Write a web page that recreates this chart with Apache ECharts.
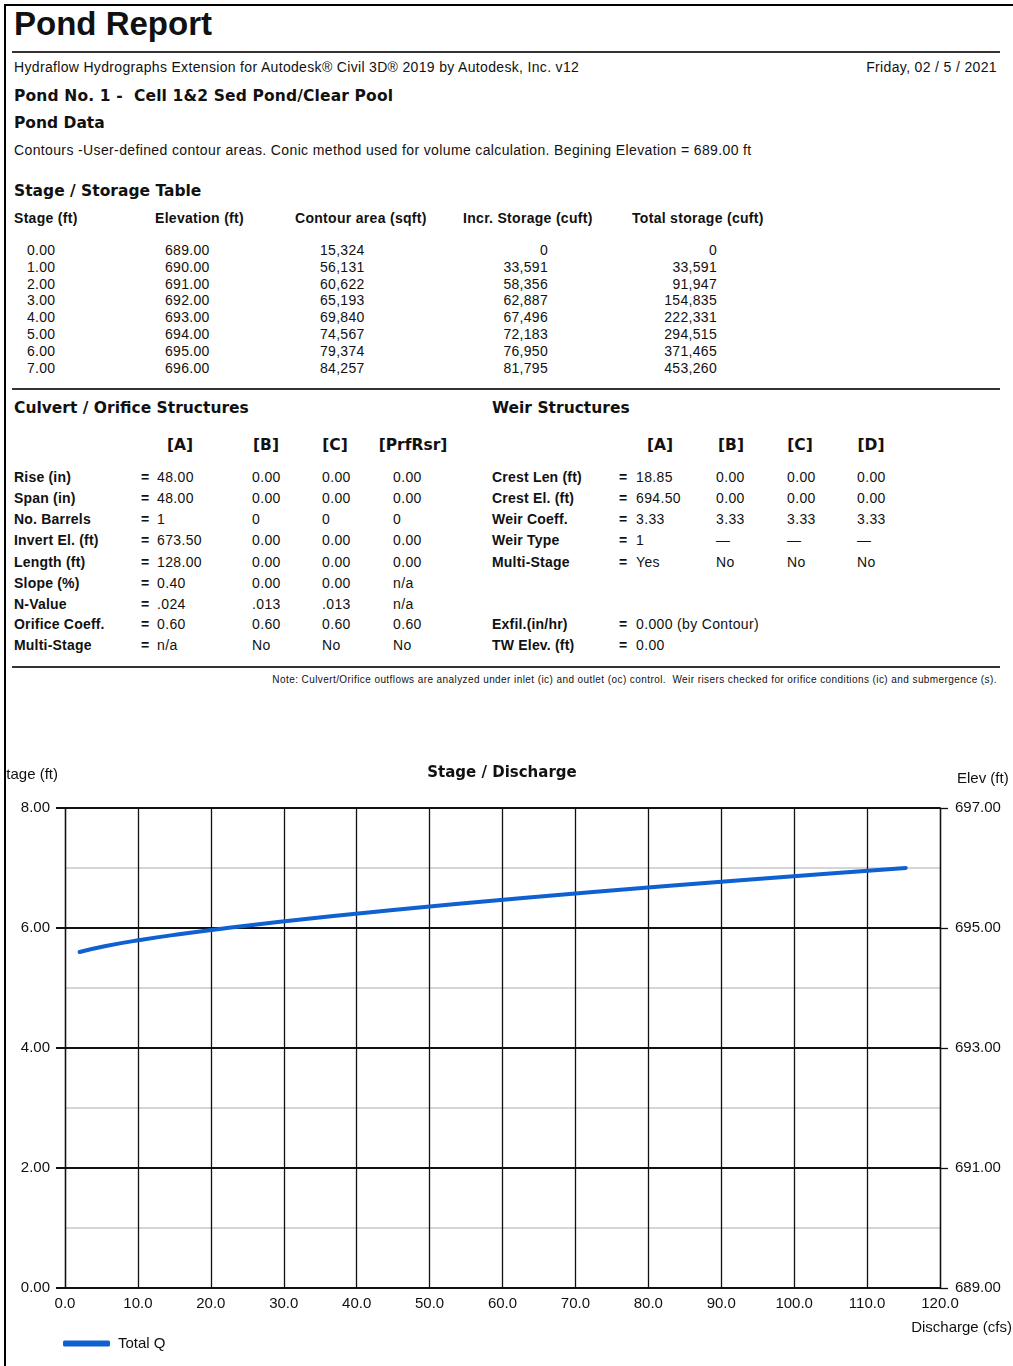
<!DOCTYPE html>
<html>
<head>
<meta charset="utf-8">
<script src="https://cdn.jsdelivr.net/npm/echarts@6/dist/echarts.min.js"></script>
<style>
  html, body { margin:0; padding:0; background:#fff; }
  body { width:1013px; height:1366px; position:relative; overflow:hidden; font-family:"Liberation Sans", Arial, sans-serif; color:#111; }
  .t { position:absolute; white-space:pre; line-height:1; }
  .hr { position:absolute; left:12px; width:988px; height:2px; background:#333; }
  #border { position:absolute; left:4px; top:4px; right:-10px; bottom:-10px; border-left:2px solid #000; border-top:2px solid #000; z-index:5; pointer-events:none; }
  #chart { position:absolute; left:6px; top:740px; width:1007px; height:626px; }
</style>
</head>
<body>
<div id="border"></div>
<div class="hr" style="top:51px"></div>
<div class="hr" style="top:388px"></div>
<div class="hr" style="top:666px"></div>
<div id="chart"></div>
<script>
// ---------- Report data ----------
var reportTitle = 'Pond Report';
var softwareLine = 'Hydraflow Hydrographs Extension for Autodesk® Civil 3D® 2019 by Autodesk, Inc. v12';
var reportDate = 'Friday, 02 / 5 / 2021';
var pondName = 'Pond No. 1 -  Cell 1&2 Sed Pond/Clear Pool';
var contourNote = 'Contours -User-defined contour areas. Conic method used for volume calculation. Begining Elevation = 689.00 ft';

var tableHeaders = ['Stage (ft)', 'Elevation (ft)', 'Contour area (sqft)', 'Incr. Storage (cuft)', 'Total storage (cuft)'];
var stageCol = ['0.00','1.00','2.00','3.00','4.00','5.00','6.00','7.00'];
var elevCol = ['689.00','690.00','691.00','692.00','693.00','694.00','695.00','696.00'];
var contourAreaCol = ['15,324','56,131','60,622','65,193','69,840','74,567','79,374','84,257'];
var incrStorageCol = ['0','33,591','58,356','62,887','67,496','72,183','76,950','81,795'];
var totalStorageCol = ['0','33,591','91,947','154,835','222,331','294,515','371,465','453,260'];

var culvertHeaders = ['[A]','[B]','[C]','[PrfRsr]'];
var culvertLabels = ['Rise (in)','Span (in)','No. Barrels','Invert El. (ft)','Length (ft)','Slope (%)','N-Value','Orifice Coeff.','Multi-Stage'];
var culvertA = ['48.00','48.00','1','673.50','128.00','0.40','.024','0.60','n/a'];
var culvertB = ['0.00','0.00','0','0.00','0.00','0.00','.013','0.60','No'];
var culvertC = ['0.00','0.00','0','0.00','0.00','0.00','.013','0.60','No'];
var culvertPrf = ['0.00','0.00','0','0.00','0.00','n/a','n/a','0.60','No'];

var weirHeaders = ['[A]','[B]','[C]','[D]'];
var weirLabels = ['Crest Len (ft)','Crest El. (ft)','Weir Coeff.','Weir Type','Multi-Stage'];
var weirA = ['18.85','694.50','3.33','1','Yes'];
var weirB = ['0.00','0.00','3.33','—','No'];
var weirC = ['0.00','0.00','3.33','—','No'];
var weirD = ['0.00','0.00','3.33','—','No'];
var extraLabels = ['Exfil.(in/hr)','TW Elev. (ft)'];
var extraValues = ['0.000 (by Contour)','0.00'];
var footNote = 'Note: Culvert/Orifice outflows are analyzed under inlet (ic) and outlet (oc) control.  Weir risers checked for orifice conditions (ic) and submergence (s).';

// ---------- Chart data ----------
var chartTitle = 'Stage / Discharge';
var seriesName = 'Total Q';
var dischargeCfs = [2.0, 5.6, 10.3, 15.9, 22.2, 29.2, 36.8, 45.0, 53.6, 62.8, 72.4, 82.5, 93.1, 104.0, 115.3];
var stageFt      = [5.6, 5.7, 5.8, 5.9, 6.0, 6.1, 6.2, 6.3, 6.4, 6.5, 6.6, 6.7, 6.8, 6.9, 7.0];
var baseElevation = 689;

var HEAD_FONT = '"DejaVu Sans", Verdana, sans-serif';

// ---------- text helper ----------
function t(x, y, s, o) {
  o = o || {};
  var d = document.createElement('div');
  d.className = 't';
  d.textContent = s;
  d.style.left = x + 'px';
  d.style.top = y + 'px';
  d.style.fontSize = (o.size || 13) + 'px';
  if (o.bold) d.style.fontWeight = 'bold';
  if (o.ls !== undefined) d.style.letterSpacing = o.ls + 'px';
  if (o.font) d.style.fontFamily = o.font;
  var tx = o.align === 'right' ? '-100%' : (o.align === 'center' ? '-50%' : '0');
  d.style.transform = 'translate(' + tx + ',-50%)';
  document.body.appendChild(d);
  return d;
}

t(14, 23, reportTitle, {size:33, bold:true});
t(14, 67, softwareLine, {size:14, ls:0.33});
t(997, 67, reportDate, {size:14, align:'right', ls:0.35});
t(14, 97, pondName, {size:15.5, bold:true, font:HEAD_FONT, ls:0.15});
t(14, 124, 'Pond Data', {size:15.5, bold:true, font:HEAD_FONT});
t(14, 150, contourNote, {size:14, ls:0.37});

t(14, 192, 'Stage / Storage Table', {size:15.5, bold:true, font:HEAD_FONT});
var hx = [14, 155, 295, 463, 632];
tableHeaders.forEach(function(h, i){ t(hx[i], 218, h, {size:14, bold:true, ls:0.3}); });
for (var r = 0; r < stageCol.length; r++) {
  var y = 250 + r * 16.8;
  t(27, y, stageCol[r], {size:14, ls:0.3});
  t(165, y, elevCol[r], {size:14, ls:0.3});
  t(320, y, contourAreaCol[r], {size:14, ls:0.3});
  t(548, y, incrStorageCol[r], {size:14, ls:0.3, align:'right'});
  t(717, y, totalStorageCol[r], {size:14, ls:0.3, align:'right'});
}

t(14, 409, 'Culvert / Orifice Structures', {size:15.5, bold:true, font:HEAD_FONT});
t(492, 409, 'Weir Structures', {size:15.5, bold:true, font:HEAD_FONT});
var chx = [180, 266, 335, 413];
culvertHeaders.forEach(function(h, i){ t(chx[i], 446, h, {size:15.5, bold:true, align:'center', font:HEAD_FONT}); });
var whx = [660, 731, 800, 871];
weirHeaders.forEach(function(h, i){ t(whx[i], 446, h, {size:15.5, bold:true, align:'center', font:HEAD_FONT}); });

var rowY = [477, 498, 519, 540, 562, 583, 604, 624, 645];
for (var i = 0; i < culvertLabels.length; i++) {
  var yy = rowY[i];
  t(14, yy, culvertLabels[i], {size:14, bold:true, ls:0.2});
  t(141, yy, '=', {size:14, bold:true});
  t(157, yy, culvertA[i], {size:14, ls:0.35});
  t(252, yy, culvertB[i], {size:14, ls:0.35});
  t(322, yy, culvertC[i], {size:14, ls:0.35});
  t(393, yy, culvertPrf[i], {size:14, ls:0.35});
}
for (var j = 0; j < weirLabels.length; j++) {
  var yw = rowY[j];
  t(492, yw, weirLabels[j], {size:14, bold:true, ls:0.2});
  t(619, yw, '=', {size:14, bold:true});
  t(636, yw, weirA[j], {size:14, ls:0.35});
  t(716, yw, weirB[j], {size:14, ls:0.35});
  t(787, yw, weirC[j], {size:14, ls:0.35});
  t(857, yw, weirD[j], {size:14, ls:0.35});
}
for (var k = 0; k < extraLabels.length; k++) {
  var ye = rowY[7 + k];
  t(492, ye, extraLabels[k], {size:14, bold:true, ls:0.2});
  t(619, ye, '=', {size:14, bold:true});
  t(636, ye, extraValues[k], {size:14, ls:0.35});
}
t(997, 680, footNote, {size:10, align:'right', ls:0.42});

// ---------- chart ----------
var chart = echarts.init(document.getElementById('chart'), null, {renderer:'canvas'});
var lineData = dischargeCfs.map(function(q, i){ return [q, stageFt[i]]; });
var lblFont = {color:'#111', fontSize:15, fontFamily:'Liberation Sans, Arial, sans-serif'};
var txtFont = '15px "Liberation Sans", Arial, sans-serif';
var lineColor = '#0f60d0';
chart.setOption({
  animation:false,
  backgroundColor:'#fff',
  grid:{left:59, right:73, top:68, bottom:78, containLabel:false},
  graphic:[
    {type:'text', x:496, y:33, style:{text:chartTitle, fill:'#111', font:'bold 15px "DejaVu Sans", Verdana, sans-serif', textAlign:'center', textVerticalAlign:'middle'}},
    {type:'text', x:52, y:35, style:{text:'Stage (ft)', fill:'#111', font:txtFont, textAlign:'right', textVerticalAlign:'middle'}},
    {type:'text', x:951, y:39, style:{text:'Elev (ft)', fill:'#111', font:txtFont, textAlign:'left', textVerticalAlign:'middle'}},
    {type:'text', x:1006, y:588, style:{text:'Discharge (cfs)', fill:'#111', font:txtFont, textAlign:'right', textVerticalAlign:'middle'}}
  ],
  legend:{
    data:[seriesName], left:52, top:591, itemWidth:47, itemHeight:6, itemGap:10,
    icon:'roundRect',
    textStyle:{color:'#111', fontSize:15, fontFamily:'Liberation Sans, Arial, sans-serif', padding:[0,0,0,3]}
  },
  xAxis:{
    type:'value', min:0, max:120, interval:10,
    axisLine:{show:true, lineStyle:{color:'#111', width:2}},
    axisTick:{show:false},
    axisLabel:Object.assign({margin:8, formatter:function(v){return v.toFixed(1);}}, lblFont),
    splitLine:{show:true, lineStyle:{color:'#111', width:1.3}}
  },
  yAxis:[
    {
      type:'value', min:0, max:8, interval:2, position:'left',
      axisLine:{show:true, lineStyle:{color:'#111', width:1.3}},
      axisTick:{show:true, length:9, lineStyle:{color:'#111', width:2}},
      axisLabel:Object.assign({margin:15, formatter:function(v){return v.toFixed(2);}}, lblFont),
      splitLine:{show:true, lineStyle:{color:'#111', width:2}},
      minorTick:{show:false, splitNumber:2},
      minorSplitLine:{show:true, lineStyle:{color:'#c8c8c8', width:1.5}}
    },
    {
      type:'value', min:0, max:8, interval:2, position:'right',
      axisLine:{show:true, lineStyle:{color:'#111', width:1.3}},
      axisTick:{show:true, length:8, lineStyle:{color:'#111', width:1.3}},
      axisLabel:Object.assign({margin:15, formatter:function(v){return (v + baseElevation).toFixed(2);}}, lblFont),
      splitLine:{show:false}
    }
  ],
  series:[{
    name:seriesName, type:'line', data:lineData, smooth:true, showSymbol:false,
    lineStyle:{color:lineColor, width:4, cap:'round'}, itemStyle:{color:lineColor}
  }]
});
</script>
</body>
</html>
